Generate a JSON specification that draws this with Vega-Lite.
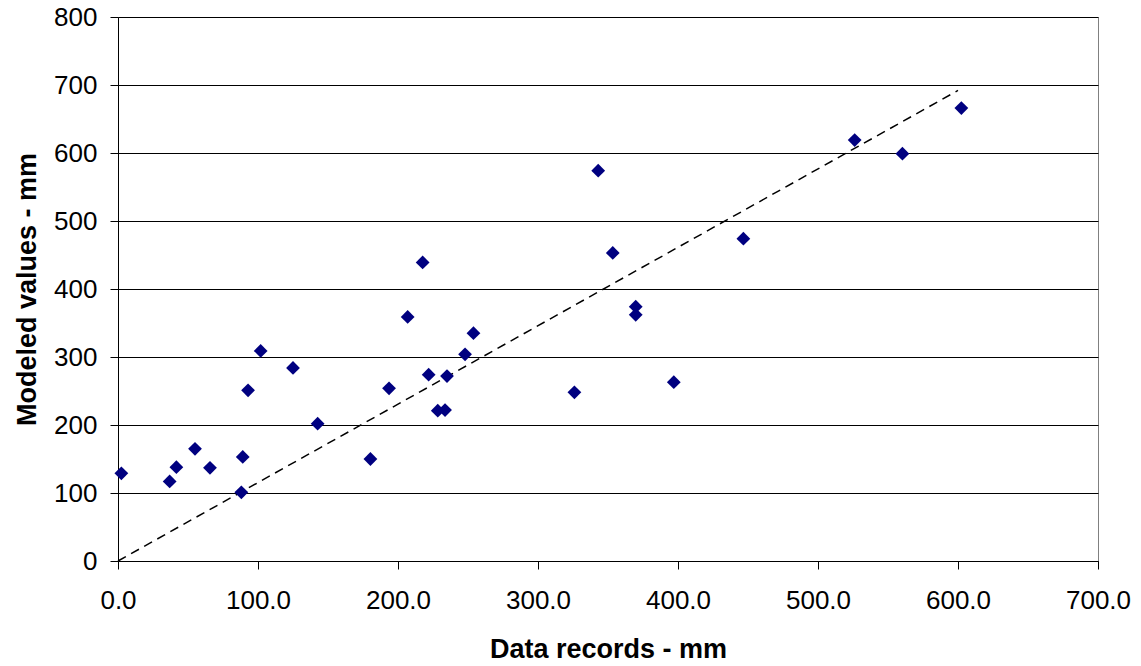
{
  "$schema": "https://vega.github.io/schema/vega-lite/v6.json",
  "width": 980,
  "height": 544,
  "autosize": {"type": "none"},
  "padding": {"left": 118, "top": 17, "right": 43, "bottom": 105},
  "background": "white",
  "config": {
    "view": {"stroke": "#808080", "strokeWidth": 1},
    "font": "Liberation Sans"
  },
  "datasets": {
    "points": [
      {"x": 2.4, "y": 129}, {"x": 36.9, "y": 117}, {"x": 41.7, "y": 138}, {"x": 55, "y": 165},
      {"x": 65.7, "y": 137}, {"x": 88.1, "y": 101}, {"x": 89.1, "y": 153}, {"x": 92.9, "y": 251},
      {"x": 101.9, "y": 309}, {"x": 125, "y": 284}, {"x": 142.6, "y": 202}, {"x": 180.3, "y": 150},
      {"x": 193.6, "y": 254}, {"x": 206.9, "y": 359}, {"x": 217.6, "y": 439}, {"x": 221.9, "y": 274},
      {"x": 228.4, "y": 221}, {"x": 233.6, "y": 222}, {"x": 235, "y": 272}, {"x": 247.9, "y": 304},
      {"x": 253.9, "y": 335}, {"x": 326, "y": 248}, {"x": 343, "y": 574}, {"x": 353.4, "y": 453},
      {"x": 369.8, "y": 374}, {"x": 369.8, "y": 362}, {"x": 397, "y": 263}, {"x": 446.7, "y": 474},
      {"x": 526.2, "y": 619}, {"x": 560.3, "y": 599}, {"x": 602.4, "y": 666}
    ],
    "fit": [
      {"x": 0, "y": 0}, {"x": 600, "y": 692}
    ]
  },
  "encoding": {
    "x": {
      "field": "x", "type": "quantitative",
      "scale": {"domain": [0, 700], "nice": false, "zero": false},
      "axis": {
        "title": "Data records - mm",
        "values": [0, 100, 200, 300, 400, 500, 600, 700],
        "format": ".1f",
        "grid": false,
        "domainColor": "black",
        "tickColor": "black",
        "tickSize": 8,
        "labelPadding": 18,
        "labelFontSize": 26,
        "labelColor": "black",
        "labelFlush": false,
        "labelOverlap": false,
        "titleFontSize": 27,
        "titleFontWeight": "bold",
        "titleColor": "black",
        "titlePadding": 23
      }
    },
    "y": {
      "field": "y", "type": "quantitative",
      "scale": {"domain": [0, 800], "nice": false, "zero": false},
      "axis": {
        "title": "Modeled values - mm",
        "values": [0, 100, 200, 300, 400, 500, 600, 700, 800],
        "grid": true,
        "gridColor": "black",
        "gridOpacity": 1,
        "gridWidth": 1,
        "domainColor": "black",
        "tickColor": "black",
        "tickSize": 8,
        "labelPadding": 13,
        "labelFontSize": 26,
        "labelColor": "black",
        "labelFlush": false,
        "labelOverlap": false,
        "titleFontSize": 27,
        "titleFontWeight": "bold",
        "titleColor": "black",
        "titlePadding": 12
      }
    }
  },
  "layer": [
    {
      "data": {"name": "fit"},
      "mark": {"type": "line", "color": "black", "strokeDash": [9, 6], "strokeWidth": 1.5}
    },
    {
      "data": {"name": "points"},
      "mark": {"type": "point", "shape": "diamond", "filled": true, "color": "#000080", "size": 190, "opacity": 1}
    }
  ]
}
